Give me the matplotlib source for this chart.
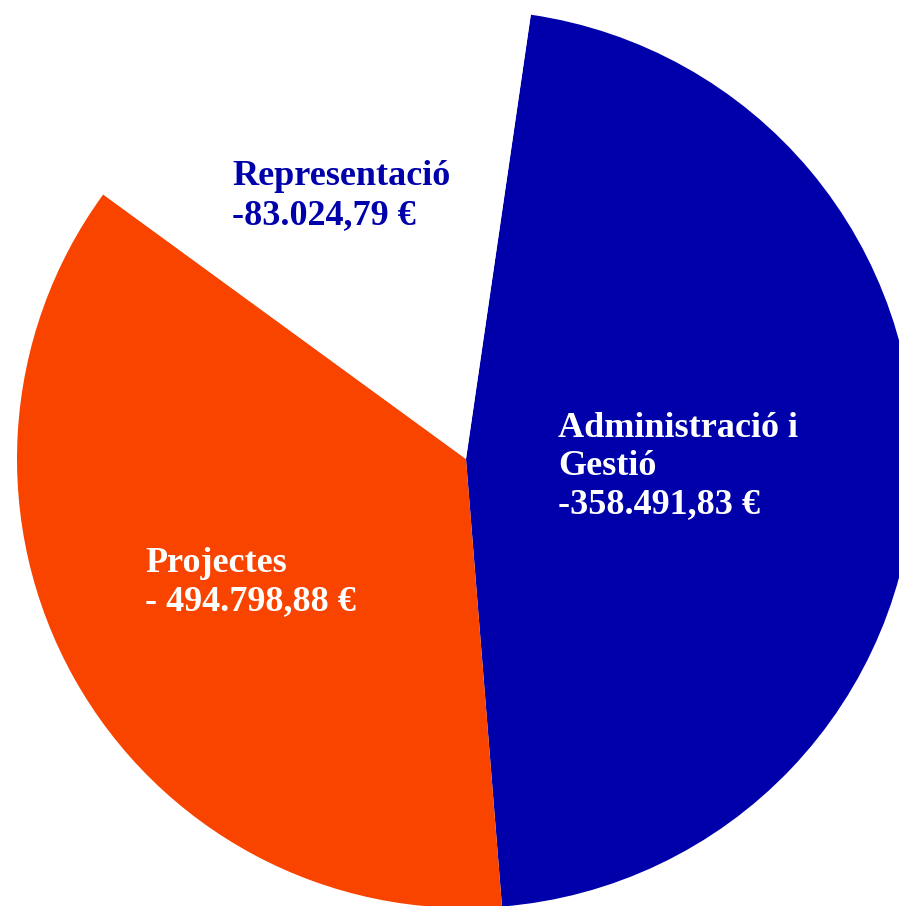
import matplotlib.pyplot as plt

# ---- data ----
categories = ["Administració i Gestió", "Projectes", "Representació"]
amount_labels = ["-358.491,83 €", "- 494.798,88 €", "-83.024,79 €"]
# slice shares as drawn in the picture (degrees of arc)
shares = [167.1, 130.7, 62.2]
colors = ["#0000AA", "#F94400", "#FFFFFF"]

plt.rcParams['font.family'] = ['Liberation Serif', 'DejaVu Serif']

W, H = 899, 906
fig = plt.figure(figsize=(W / 100, H / 100), dpi=100)
ax = fig.add_axes([0, 0, 1, 1])

# circle centre and radius in pixels
cx, cy, r = 466, 459, 449

ax.pie(shares, colors=colors, startangle=90 - 8.3, counterclock=False,
       wedgeprops=dict(linewidth=0))
ax.set_aspect('auto')
ax.set_xlim(-cx / r, (W - cx) / r)
ax.set_ylim(-(H - cy) / r, cy / r)
ax.axis('off')

# labels: (lines, x px, baselines px, colour)
label_specs = [
    (["Administració i", "Gestió", amount_labels[0]], 558, [437, 475, 513], "white"),
    ([categories[1], amount_labels[1]], 145, [572, 610], "white"),
    ([categories[2], amount_labels[2]], 232, [185, 224], "#0000AA"),
]
for lines, px, bls, col in label_specs:
    for line, py in zip(lines, bls):
        ax.text(px / W, 1 - py / H, line, transform=ax.transAxes,
                ha='left', va='baseline', color=col, fontsize=26,
                fontweight='bold')

fig.savefig("out.png", dpi=100)
